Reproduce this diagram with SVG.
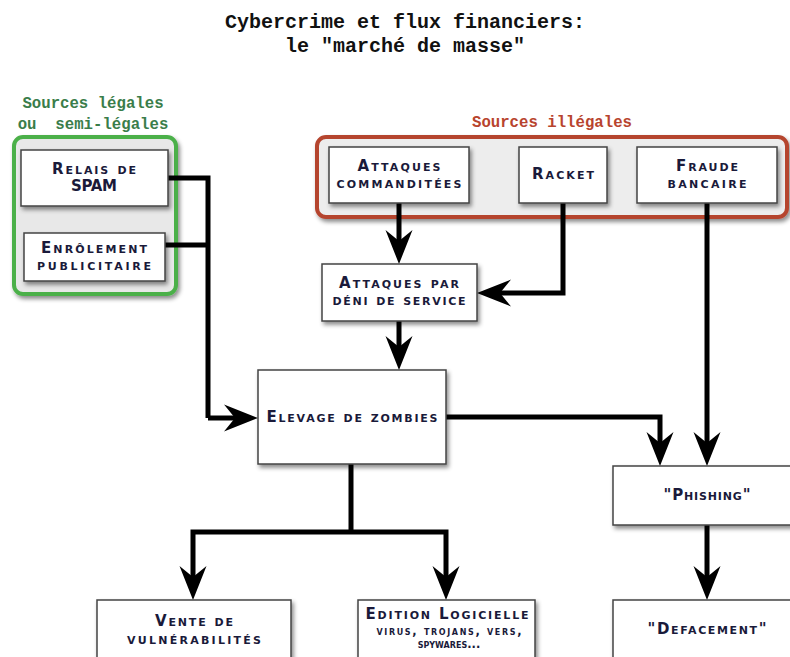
<svg xmlns="http://www.w3.org/2000/svg" width="790" height="657" viewBox="0 0 790 657">
<defs>
<filter id="sh" x="-20%" y="-20%" width="150%" height="160%">
<feDropShadow dx="2" dy="3" stdDeviation="2" flood-color="#000" flood-opacity="0.45"/>
</filter>
<marker id="ar" markerUnits="userSpaceOnUse" viewBox="-20 -20 45 40" refX="0" refY="0" markerWidth="45" markerHeight="40" orient="auto" overflow="visible">
<path d="M20,0 L-14,-13.5 L-3,0 L-14,13.5 Z" fill="#000"/>
</marker>
<style>
.title{font-family:"Liberation Mono","DejaVu Sans Mono",monospace;font-weight:bold;font-size:20px;fill:#111;text-anchor:middle}
.grp{font-family:"Liberation Mono","DejaVu Sans Mono",monospace;font-weight:bold;font-size:15.7px;text-anchor:middle}
.box{fill:#fff;stroke:#444;stroke-width:1.5;filter:url(#sh)}
.lbl{font-family:"DejaVu Sans",sans-serif;font-weight:bold;font-size:15px;font-variant:small-caps;fill:#1a1a3a;text-anchor:middle}
.sm{font-size:11.5px}
.cn{fill:none;stroke:#000;stroke-width:5;stroke-linejoin:miter}
.ar{marker-end:url(#ar)}
</style>
</defs>
<rect width="790" height="657" fill="#fff"/>
<text class="title" x="405" y="28">Cybercrime et flux financiers:</text>
<text class="title" x="405" y="52">le "marché de masse"</text>

<g id="legal-group">
<text class="grp" x="93" y="108" fill="#3a7d4a">Sources légales</text>
<text class="grp" x="93" y="129" fill="#3a7d4a" xml:space="preserve">ou  semi-légales</text>
<rect x="14" y="137" width="162" height="157" rx="9" fill="#e8e8e8" stroke="#4cb04a" stroke-width="4" filter="url(#sh)"/>
</g>
<g id="illegal-group">
<text class="grp" x="552" y="127" fill="#b8442e">Sources illégales</text>
<rect x="317" y="137" width="470" height="80" rx="9" fill="#ededed" stroke="#b5452f" stroke-width="4" filter="url(#sh)"/>
</g>

<g id="connectors">
<path class="cn" d="M168,178 H208 V418"/>
<path class="cn" d="M165,245 H208"/>
<path class="cn ar" d="M208,418 H238"/>
<path class="cn ar" d="M399,203 V244"/>
<path class="cn ar" d="M563,203 V293 H497"/>
<path class="cn ar" d="M707,203 V446"/>
<path class="cn ar" d="M399,321 V350"/>
<path class="cn ar" d="M446,417 H660 V446"/>
<path class="cn" d="M351,464 V532"/>
<path class="cn ar" d="M351,532 H193 V580"/>
<path class="cn ar" d="M351,532 H446 V580"/>
<path class="cn ar" d="M707,525 V580"/>
</g>

<g id="relais-spam">
<rect class="box" x="21" y="150" width="147" height="56"/>
<text class="lbl" x="94" y="174" textLength="84" lengthAdjust="spacing">Relais de</text>
<text class="lbl" x="94" y="191" textLength="46" lengthAdjust="spacing">SPAM</text>
</g>
<g id="enrolement">
<rect class="box" x="24" y="233" width="141" height="48"/>
<text class="lbl" x="94" y="253" textLength="106" lengthAdjust="spacing">Enrôlement</text>
<text class="lbl" x="94" y="270" textLength="114" lengthAdjust="spacing">publicitaire</text>
</g>
<g id="attaques-commanditees">
<rect class="box" x="329" y="147" width="140" height="56"/>
<text class="lbl" x="399" y="171" textLength="83" lengthAdjust="spacing">Attaques</text>
<text class="lbl" x="399" y="188" textLength="125" lengthAdjust="spacing">commanditées</text>
</g>
<g id="racket">
<rect class="box" x="519" y="147" width="88" height="56"/>
<text class="lbl" x="563" y="179" textLength="62" lengthAdjust="spacing">Racket</text>
</g>
<g id="fraude-bancaire">
<rect class="box" x="637" y="147" width="140" height="56"/>
<text class="lbl" x="707" y="171" textLength="62" lengthAdjust="spacing">Fraude</text>
<text class="lbl" x="707" y="188" textLength="79" lengthAdjust="spacing">bancaire</text>
</g>
<g id="ddos">
<rect class="box" x="322" y="264" width="155" height="57"/>
<text class="lbl" x="399" y="288" textLength="120" lengthAdjust="spacing">Attaques par</text>
<text class="lbl" x="399" y="305" textLength="133" lengthAdjust="spacing">déni de service</text>
</g>
<g id="elevage-zombies">
<rect class="box" x="258" y="370" width="188" height="94"/>
<text class="lbl" x="352" y="422" textLength="171" lengthAdjust="spacing">Elevage de zombies</text>
</g>
<g id="phishing">
<rect class="box" x="613" y="466" width="188" height="59"/>
<text class="lbl" x="707" y="500" textLength="87" lengthAdjust="spacing">"Phishing"</text>
</g>
<g id="vente-vulnerabilites">
<rect class="box" x="97" y="600" width="194" height="80"/>
<text class="lbl" x="194" y="626" textLength="78" lengthAdjust="spacing">Vente de</text>
<text class="lbl" x="194" y="644" textLength="134" lengthAdjust="spacing">vulnérabilités</text>
</g>
<g id="edition-logicielle">
<rect class="box" x="358" y="600" width="177" height="80"/>
<text class="lbl" x="447" y="619" textLength="163" lengthAdjust="spacing">Edition Logicielle</text>
<text class="lbl sm" x="449" y="635" textLength="145" lengthAdjust="spacing">virus, trojans, vers,</text>
<text class="lbl sm" x="449" y="648">spywares...</text>
</g>
<g id="defacement">
<rect class="box" x="613" y="600" width="188" height="80"/>
<text class="lbl" x="707" y="634" textLength="119" lengthAdjust="spacing">"Defacement"</text>
</g>
</svg>
